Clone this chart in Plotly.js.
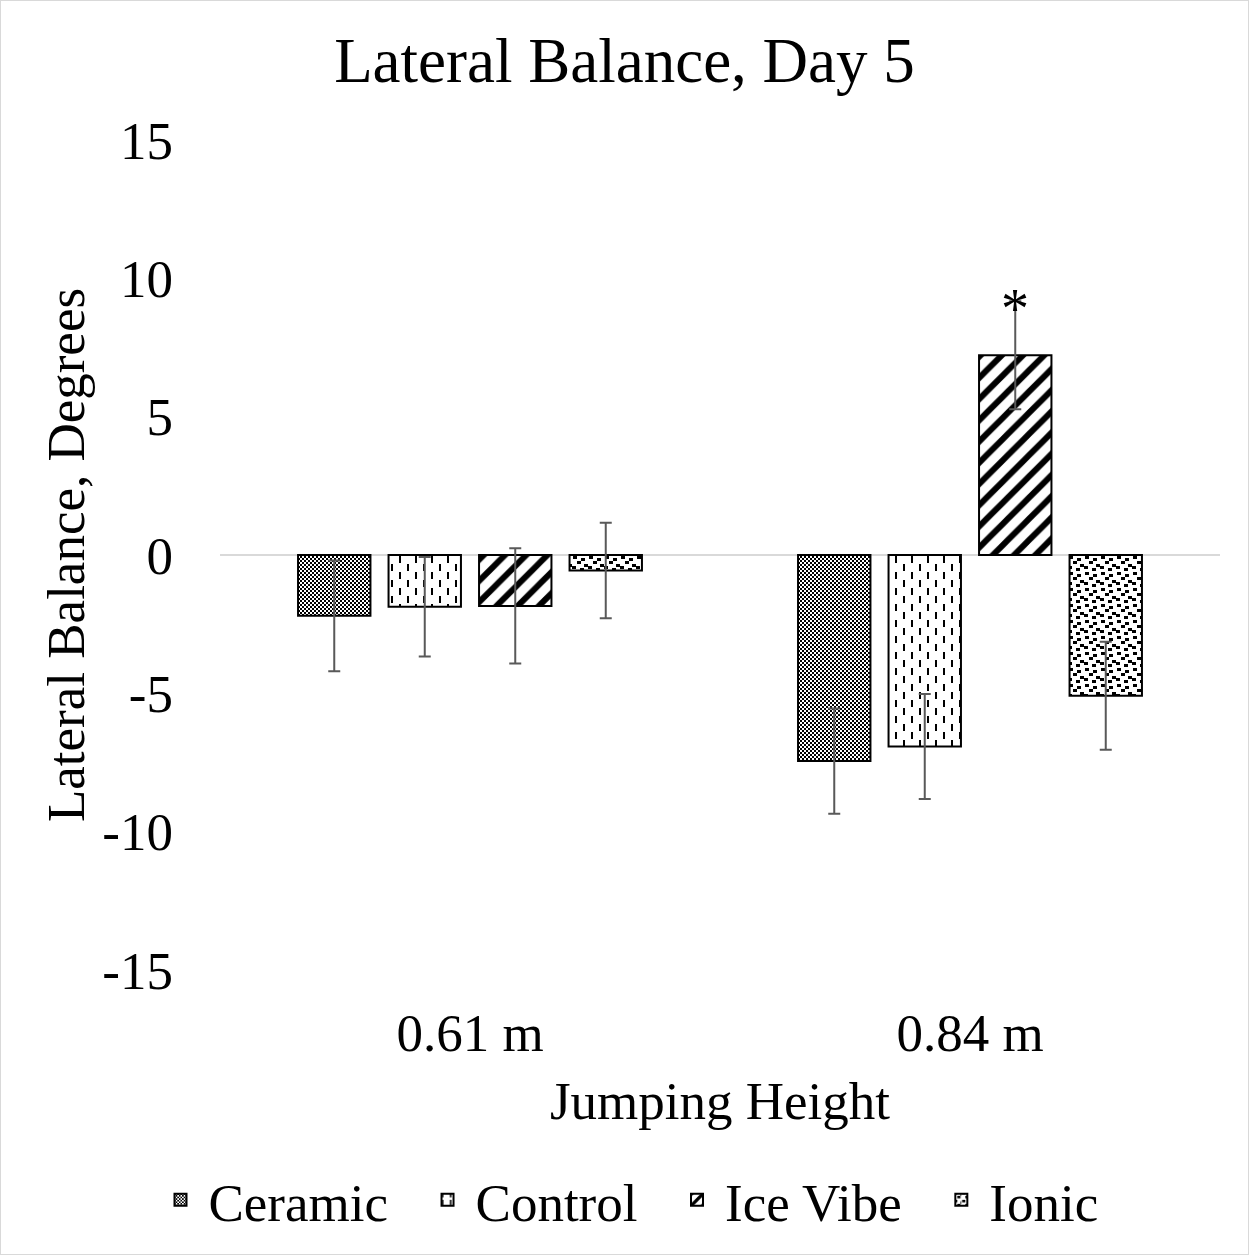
<!DOCTYPE html>
<html>
<head>
<meta charset="utf-8">
<script src="https://cdn.plot.ly/plotly-3.0.1.min.js"></script>
<style>
  html, body { margin: 0; padding: 0; background: #fff; }
  #chart { width: 1247px; height: 1253px; border: 1px solid #d9d9d9; }
</style>
</head>
<body>
<div id="chart"></div>
<script>
const categories = ["0.61 m", "0.84 m"];
const seriesNames = ["Ceramic", "Control", "Ice Vibe", "Ionic"];
const legendNames = ["Ceramic\u00a0\u00a0", "Control\u00a0\u00a0", "Ice Vibe\u00a0\u00a0", "Ionic"];
const ceramic = [-2.2, -7.45];
const control = [-1.87, -6.92];
const iceVibe = [-1.84, 7.22];
const ionic = [-0.56, -5.09];
const ceramicErr = [2.0, 1.9];
const controlErr = [1.8, 1.9];
const iceVibeErr = [2.08, 1.95];
const ionicErr = [1.73, 1.95];
const yTicks = [-15, -10, -5, 0, 5, 10, 15];

const values = [ceramic, control, iceVibe, ionic];
const errs = [ceramicErr, controlErr, iceVibeErr, ionicErr];
const patterns = [
  {size: 4, solidity: 0.5, path: "M0,0H2V2H0Z M2,2H4V4H2Z"},
  {size: 16, solidity: 0.1, path: "M3,0H5V7H3Z M11,8H13V15H11Z"},
  {shape: "/", size: 15, solidity: 0.4},
  {size: 16, solidity: 0.35, path: "M1,0H5V3H1Z M9,2H13V5H9Z M5,5H9V8H5Z M12,8H16V11H12Z M0,10H4V13H0Z M8,12H12V15H8Z"}
];

const font = "Liberation Serif, Times New Roman, serif";

const traces = seriesNames.map((name, i) => ({
  type: "bar",
  name: legendNames[i],
  x: categories,
  y: values[i],
  marker: {
    color: "#ffffff",
    line: {color: "#000000", width: 2},
    pattern: Object.assign({fgcolor: "#000000", bgcolor: "#ffffff", fgopacity: 1, fillmode: "replace"}, patterns[i])
  },
  error_y: {type: "data", array: errs[i], visible: true, color: "#595959", thickness: 2, width: 6}
}));

const layout = {
  width: 1247,
  height: 1253,
  paper_bgcolor: "#ffffff",
  plot_bgcolor: "#ffffff",
  margin: {l: 219, r: 28, t: 139, b: 284, autoexpand: false},
  font: {family: font, color: "#000000", size: 53},
  title: {text: "Lateral Balance, Day 5", font: {family: font, size: 63}, x: 0.5, xanchor: "center", y: 0.953, yanchor: "middle"},
  barmode: "group",
  bargap: 0.276,
  bargroupgap: 0.2,
  showlegend: true,
  legend: {orientation: "h", x: 0.408, xanchor: "center", y: -0.277, yanchor: "middle", itemwidth: 46, font: {family: font, size: 53}},
  xaxis: {
    type: "category",
    showgrid: false,
    showline: false,
    ticks: "",
    tickangle: 0,
    ticklabelstandoff: 27,
    tickfont: {family: font, size: 53},
    title: {text: "Jumping Height", font: {family: font, size: 53}, standoff: 20}
  },
  yaxis: {
    range: [-15, 15],
    tickvals: yTicks,
    ticktext: yTicks.map(String),
    showgrid: false,
    showline: false,
    zeroline: true,
    zerolinecolor: "#d9d9d9",
    zerolinewidth: 2,
    ticks: "",
    ticklabelstandoff: 46,
    tickfont: {family: font, size: 53},
    title: {text: "Lateral Balance, Degrees", font: {family: font, size: 53}, standoff: 0}
  },
  annotations: [{
    x: categories[1],
    y: iceVibe[1] + iceVibeErr[1],
    xref: "x",
    yref: "y",
    text: "*",
    showarrow: false,
    xshift: 45,
    yshift: -8,
    font: {family: font, size: 56, color: "#000000"}
  }]
};

Plotly.newPlot("chart", traces, layout, {displayModeBar: false, staticPlot: true});
</script>
</body>
</html>
